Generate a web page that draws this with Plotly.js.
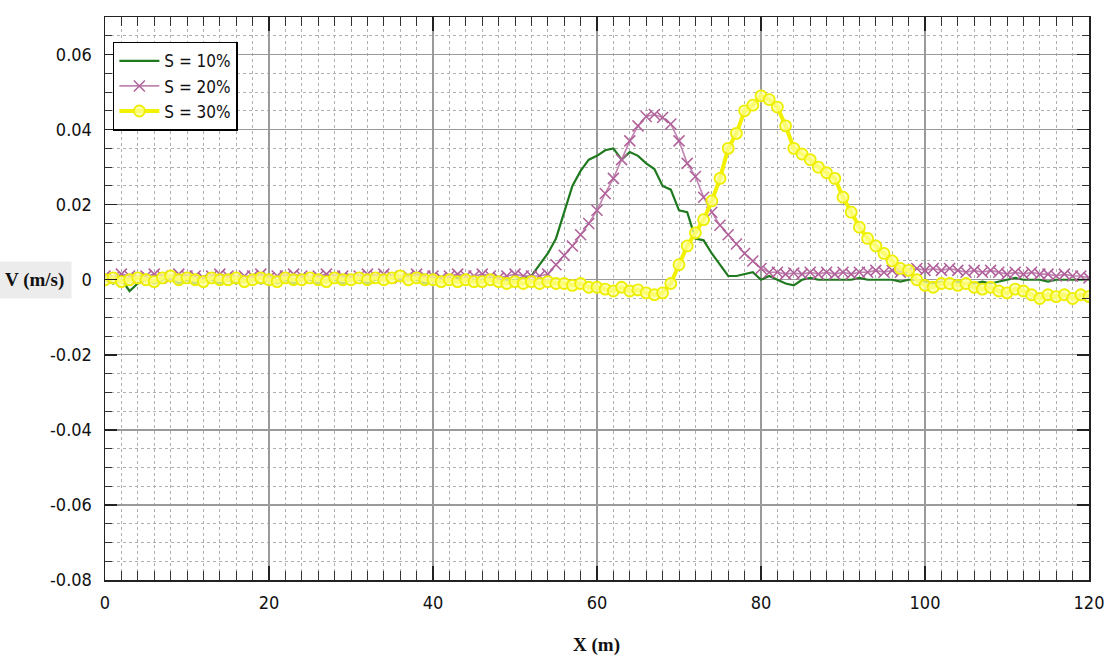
<!DOCTYPE html>
<html>
<head>
<meta charset="utf-8">
<script src="https://cdn.plot.ly/plotly-3.0.1.min.js"></script>
<style>html,body{margin:0;padding:0;background:#fff;}#chart{width:1107px;height:659px;}</style>
</head>
<body>
<div id="chart"></div>
<script>
const xPos = [0,1,2,3,4,5,6,7,8,9,10,11,12,13,14,15,16,17,18,19,20,21,22,23,24,25,26,27,28,29,30,31,32,33,34,35,36,37,38,39,40,41,42,43,44,45,46,47,48,49,50,51,52,53,54,55,56,57,58,59,60,61,62,63,64,65,66,67,68,69,70,71,72,73,74,75,76,77,78,79,80,81,82,83,84,85,86,87,88,89,90,91,92,93,94,95,96,97,98,99,100,101,102,103,104,105,106,107,108,109,110,111,112,113,114,115,116,117,118,119,120];

const seriesNames = ["S = 10%", "S = 20%", "S = 30%"];

const vS10 = [
0,-0.001,0,-0.003,-0.001,0,-0.001,0,0.0005,-0.001,
0,-0.001,0,0,-0.001,0,-0.001,0,0,-0.001,
0,-0.001,0,-0.001,0,0,-0.001,0,0,-0.001,
0,0,-0.001,0,0,0.0005,0,0,0,-0.001,
0,0,0,0.0005,0,0,0,0.0005,0,0,
0,0.0005,0.001,0.004,0.007,0.011,0.018,0.025,0.029,0.032,
0.033,0.0345,0.035,0.032,0.034,0.033,0.031,0.0295,0.025,0.024,
0.0185,0.018,0.011,0.0105,0.007,0.004,0.001,0.001,0.0015,0.002,
0,0.001,0,-0.001,-0.0015,0,0.0005,0,0,0,
0,0,0.0005,0,0,0,0,-0.0005,0,0,
-0.0005,-0.001,-0.0005,-0.001,-0.0005,-0.001,-0.001,-0.0005,-0.001,-0.0005,
0,0.0005,0,0,0,-0.0005,0,0,0,0,
0];

const vS20 = [
0.001,0.0005,0.0015,0.001,0.0005,0.001,0.0015,0.001,0.0005,0.0015,
0.001,0.001,0.0005,0.001,0.0015,0.001,0.0005,0.001,0.001,0.0015,
0.0005,0.001,0.001,0.0015,0.001,0.0005,0.001,0.0015,0.001,0.001,
0.0005,0.001,0.0015,0.001,0.0015,0.001,0.0005,0.001,0.0015,0.001,
0.001,0.0005,0.001,0.0015,0.001,0.001,0.0015,0.001,0.0005,0.001,
0.0015,0.001,0.001,0.001,0.0015,0.004,0.0065,0.009,0.012,0.015,
0.0185,0.023,0.027,0.032,0.037,0.041,0.0435,0.044,0.0432,0.0415,
0.037,0.031,0.0275,0.022,0.018,0.0145,0.012,0.0095,0.007,0.005,
0.003,0.002,0.002,0.0015,0.0018,0.0015,0.002,0.0015,0.002,0.0015,
0.002,0.0015,0.002,0.002,0.0025,0.002,0.0025,0.002,0.0025,0.003,
0.0025,0.003,0.0025,0.003,0.0025,0.002,0.0025,0.002,0.0025,0.002,
0.0015,0.002,0.0015,0.002,0.0015,0.0015,0.001,0.0015,0.001,0.001,
0.0005];

const vS30 = [
0,0.0005,-0.0005,0,0.0005,0,-0.0005,0.0005,0.001,0,
0.0005,0,-0.0005,0.0005,0,0,0.0005,-0.0005,0,0.0005,
0,-0.0005,0.0005,0,0,0.0005,0,-0.0005,0.0005,0,
0,0.0005,0,0.0005,0,0.0005,0.001,0,0.0005,0,
0,-0.0005,0,-0.0005,0,-0.0005,-0.0005,0,-0.0005,-0.001,
-0.0005,-0.001,-0.0005,-0.001,-0.0005,-0.001,-0.001,-0.0015,-0.001,-0.002,
-0.002,-0.0025,-0.003,-0.002,-0.003,-0.0027,-0.0035,-0.004,-0.0035,-0.001,
0.004,0.009,0.0125,0.016,0.021,0.027,0.035,0.039,0.045,0.0465,
0.049,0.048,0.046,0.041,0.035,0.0335,0.032,0.030,0.0285,0.027,
0.022,0.018,0.014,0.011,0.009,0.007,0.005,0.003,0.0025,0,
-0.0015,-0.002,-0.001,-0.001,-0.0015,-0.001,-0.002,-0.0025,-0.002,-0.003,
-0.0035,-0.0025,-0.003,-0.004,-0.005,-0.004,-0.0045,-0.004,-0.005,-0.004,
-0.0045];

const xTickVals = [0,20,40,60,80,100,120];
const xTickText = ["0","20","40","60","80","100","120"];
const yTickVals = [0.06,0.04,0.02,0,-0.02,-0.04,-0.06,-0.08];
const yTickText = ["0.06","0.04","0.02","0","-0.02","-0.04","-0.06","-0.08"];

const narrow = "'Liberation Sans Narrow', 'Arial Narrow', 'DejaVu Sans Condensed', 'Roboto Condensed', 'Liberation Sans', Arial, sans-serif";
const tickFont = {family: narrow, size: 18, color: "#111"};

const traces = [
  {x: xPos, y: vS10, name: seriesNames[0], mode: "lines", type: "scatter",
   line: {color: "#1f7a1f", width: 2.2}},
  {x: xPos, y: vS20, name: seriesNames[1], mode: "lines+markers", type: "scatter",
   line: {color: "#c284b0", width: 1.6},
   marker: {symbol: "x-thin-open", size: 11, color: "#b0609a", line: {color: "#b0609a", width: 1.5}}},
  {x: xPos, y: vS30, name: seriesNames[2], mode: "lines+markers", type: "scatter",
   line: {color: "#f2f200", width: 4},
   marker: {symbol: "circle", size: 11, color: "rgba(255,255,150,0.75)", line: {color: "#eeee00", width: 1.8}}}
];

const layout = {
  width: 1107, height: 659,
  margin: {l: 105, r: 18, t: 17, b: 79},
  paper_bgcolor: "#fff", plot_bgcolor: "#fff",
  showlegend: true,
  legend: {x: 0.008, y: 0.956, xanchor: "left", yanchor: "top",
    bgcolor: "#fff", bordercolor: "#000", borderwidth: 1.5,
    font: {family: narrow, size: 17, color: "#111"},
    tracegroupgap: 4, itemwidth: 40},
  xaxis: {
    range: [0, 120], tickvals: xTickVals, ticktext: xTickText,
    ticks: "inside", ticklen: 14, tickwidth: 1.5, tickcolor: "#222",
    showline: true, linecolor: "#222", linewidth: 1.5, mirror: "ticks",
    showgrid: true, gridcolor: "#9a9a9a", gridwidth: 1.3,
    zeroline: false, tickfont: tickFont, ticklabelstandoff: 6,
    ticklabeloverflow: "allow",
    minor: {dtick: 2, tick0: 0, ticks: "inside", ticklen: 9, tickwidth: 1, tickcolor: "#333",
      showgrid: true, gridcolor: "#b0b0b0", griddash: "dot", gridwidth: 1}
  },
  yaxis: {
    range: [-0.08, 0.07], tickvals: yTickVals, ticktext: yTickText,
    ticks: "inside", ticklen: 12, tickwidth: 1.5, tickcolor: "#222",
    showline: true, linecolor: "#222", linewidth: 1.5, mirror: "ticks",
    showgrid: true, gridcolor: "#9a9a9a", gridwidth: 1.3,
    zeroline: false, tickfont: tickFont, ticklabelstandoff: 8,
    ticklabeloverflow: "allow",
    minor: {dtick: 0.005, tick0: 0, ticks: "inside", ticklen: 7, tickwidth: 1, tickcolor: "#333",
      showgrid: true, gridcolor: "#b0b0b0", griddash: "dot", gridwidth: 1}
  },
  annotations: [
    {text: "<b>V (m/s)</b>", xref: "paper", yref: "paper",
     x: -0.072, y: (0 + 0.08) / 0.15, xanchor: "center", yanchor: "middle", showarrow: false,
     bgcolor: "#ececec", borderpad: 7,
     font: {family: "'Liberation Serif', 'Times New Roman', serif", size: 19, color: "#111"}},
    {text: "<b>X (m)</b>", xref: "paper", yref: "paper",
     x: 0.499, y: -0.115, xanchor: "center", yanchor: "middle", showarrow: false,
     font: {family: "'Liberation Serif', 'Times New Roman', serif", size: 19, color: "#111"}}
  ]
};

Plotly.newPlot("chart", traces, layout, {displayModeBar: false, staticPlot: true});
</script>
</body>
</html>
